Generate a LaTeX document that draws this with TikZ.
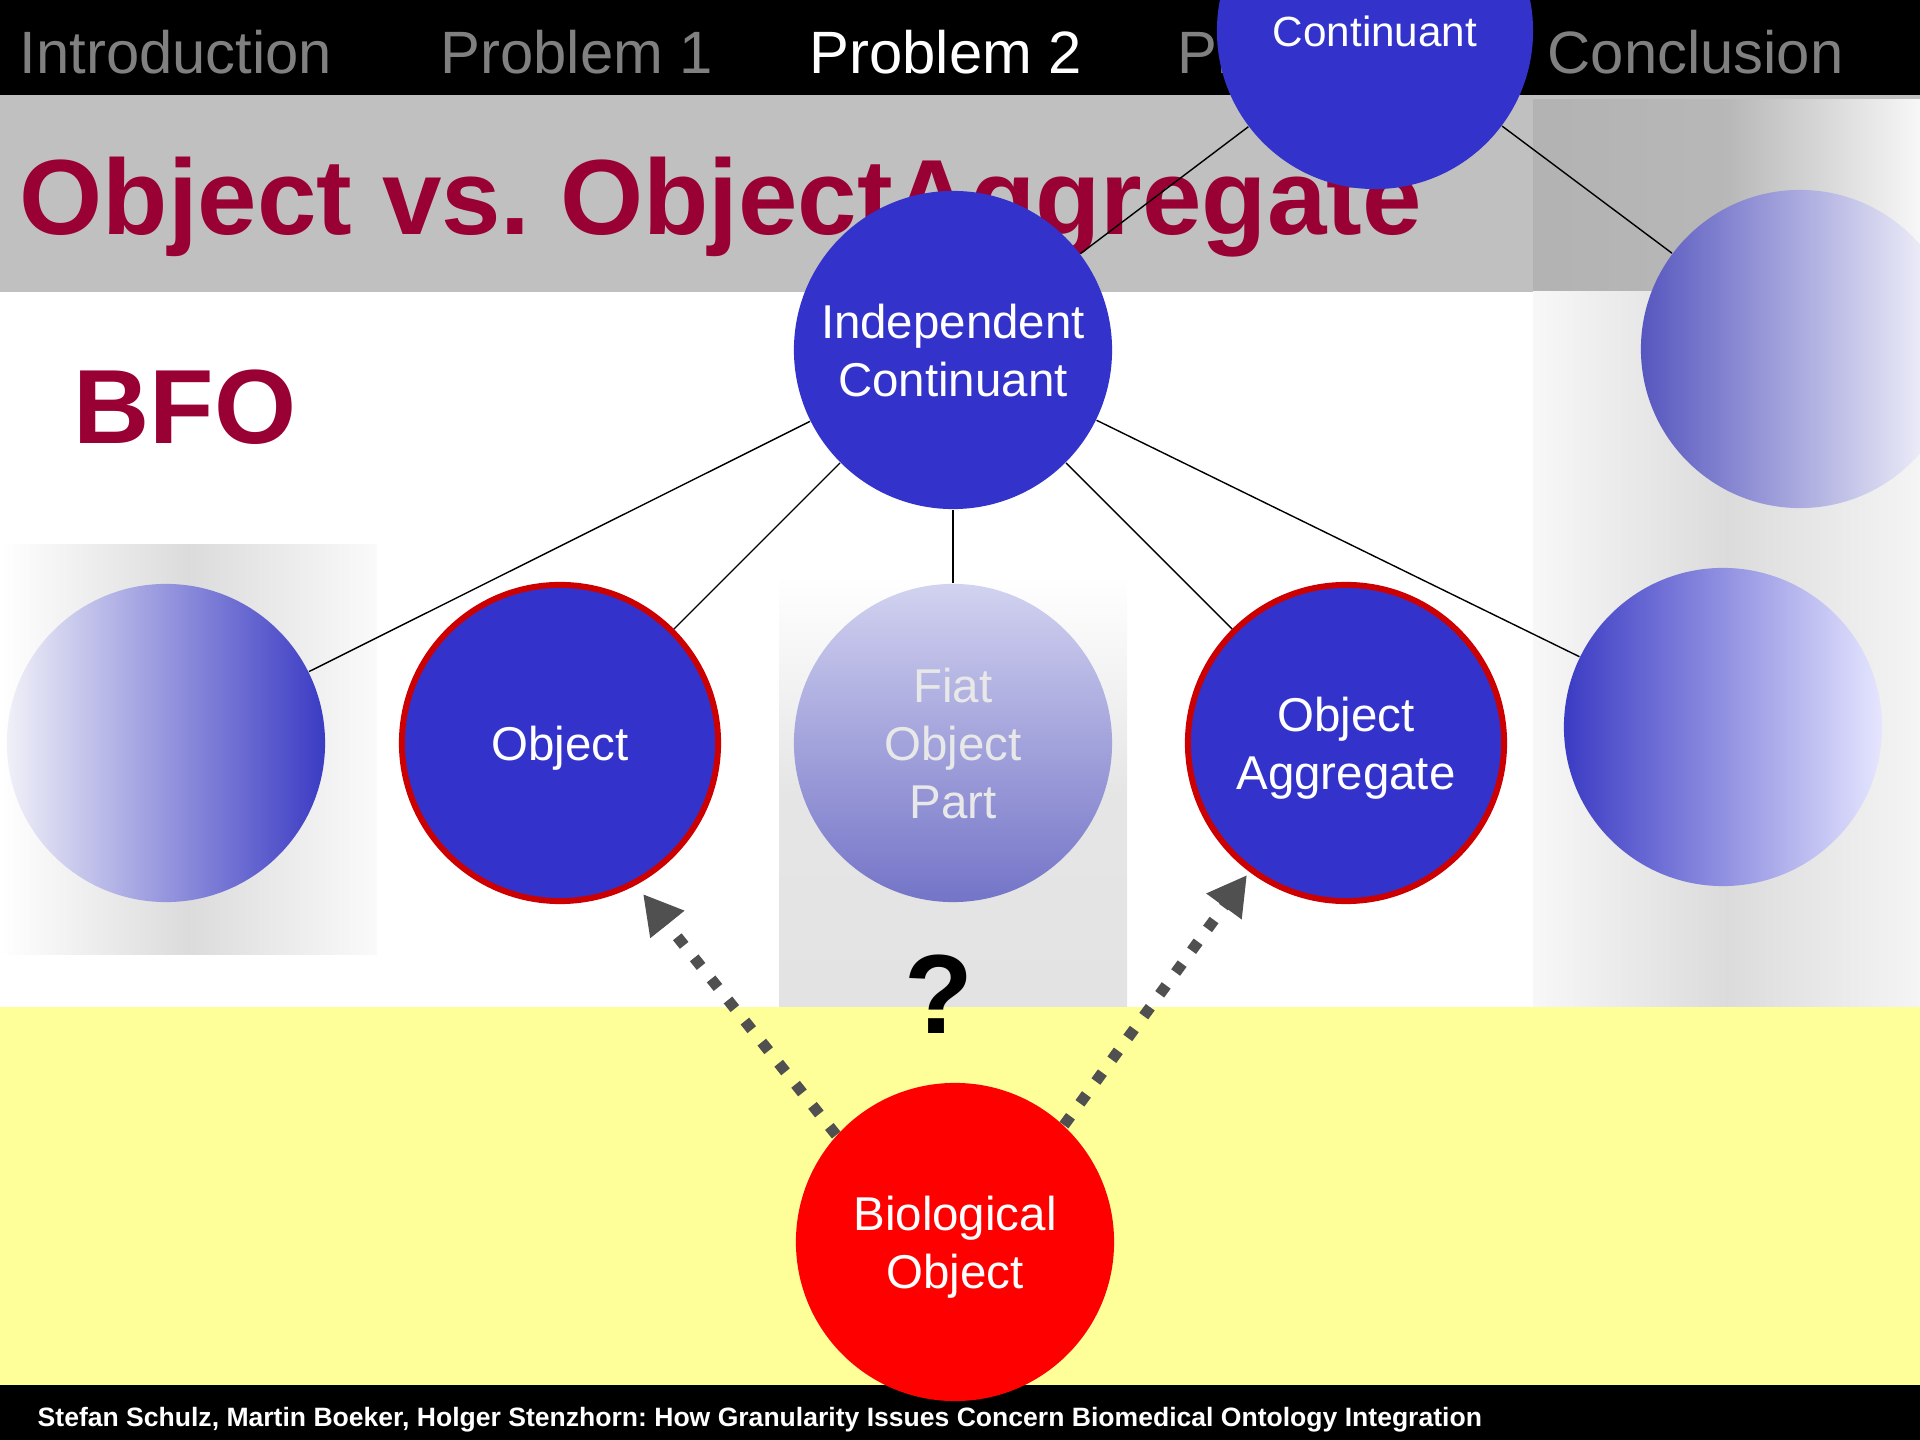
\documentclass[tikz,border=0pt]{standalone}
\usepackage{fontspec}
\setmainfont{Liberation Sans}
\usepackage{xcolor}
\usetikzlibrary{arrows.meta}

\definecolor{navgray}{HTML}{808080}
\definecolor{bandgray}{HTML}{C0C0C0}
\definecolor{titlered}{HTML}{990033}
\definecolor{nodeblue}{HTML}{3333CC}
\definecolor{ringred}{HTML}{CC0000}
\definecolor{paleyellow}{HTML}{FFFF99}
\definecolor{hintgray}{HTML}{505050}
\definecolor{fadeblue}{HTML}{3B3BC4}
\definecolor{paleblue}{HTML}{F0F0F8}
\definecolor{fiattop}{HTML}{D2D2F0}
\definecolor{fiatbottom}{HTML}{7474C8}
\frenchspacing

\begin{document}
\begin{tikzpicture}[x=0.01cm,y=-0.01cm,
    label/.style={anchor=base west,inner sep=0pt},
    nav/.style={label,text=navgray,font=\fontsize{17}{20}\selectfont},
    heading/.style={label,text=titlered,font=\fontsize{30}{36}\selectfont\bfseries},
    concept/.style={circle,inner sep=0pt,minimum size=3.18cm,align=center,text depth=0pt,
      text=white,font=\fontsize{13.5}{16.5}\selectfont},
    ringed/.style={concept,minimum size=3.16cm,fill=nodeblue,draw=ringred,line width=0.06cm},
    hint/.style={hintgray,line width=0.11cm,dash pattern=on 0.11cm off 0.16cm,
      -{Triangle[length=0.39cm,width=0.41cm]}}]
  \clip (0,0) rectangle (1920,1440);

  % Header and title band
  \fill[black] (0,0) rectangle (1920,95);
  \fill[bandgray] (0,95) rectangle (1920,292);

  % Faded panels behind the greyed-out classes
  \shade[left color=black!30,right color=black!3,middle color=black!28] (1533,100) rectangle (1920,292);
  \shade[left color=black!3,right color=black!4,middle color=black!14] (1533,292) rectangle (1920,1007);
  \shade[left color=white,right color=black!2,middle color=black!14] (0,545) rectangle (377,955);
  \shade[top color=white,bottom color=black!11,middle color=black!10] (779,575) rectangle (1127,1007);

  % Domain band and footer
  \fill[paleyellow] (0,1007) rectangle (1920,1385);
  \fill[black] (0,1385) rectangle (1920,1440);

  % Navigation
  \node[nav] (intro) at (19,74) {Introduction};
  \node[nav] (prob1) at (440,74) {Problem 1};
  \node[nav,text=white] (prob2) at (809,74) {Problem 2};
  \node[nav] (prob3) at (1177,74) {Problem 3};
  \node[nav] (concl) at (1547,74) {Conclusion};

  % Headings
  \node[heading,font=\fontsize{30.4}{36}\selectfont\bfseries] (title) at (19,235) {Object vs. ObjectAggregate};
  \node[heading] (bfo) at (73,444) {BFO};
  \node[label,text=white,font=\fontsize{7.55}{9}\selectfont\bfseries] (credit) at (37,1427)
    {Stefan Schulz, Martin Boeker, Holger Stenzhorn: How Granularity Issues Concern Biomedical Ontology Integration};
  \node[inner sep=0pt,font=\fontsize{32}{36}\selectfont\bfseries] (qmark) at (939,994) {?};

  % Classes
  \node[concept,fill=nodeblue,minimum size=3.16cm,font=\fontsize{12}{14}\selectfont] (cont) at (1375,31) {Continuant};
  \node[concept,fill=nodeblue] (ic) at (953,350) {Independent\\Continuant};
  \node[concept,left color=paleblue,right color=fadeblue] (lft) at (166,743) {};
  \node[ringed] (obj) at (560,743) {Object};
  \node[concept,top color=fiattop,bottom color=fiatbottom,text=black!9] (fiat) at (953,743) {Fiat\\Object\\Part};
  \node[ringed] (agg) at (1346,743) {Object\\Aggregate};
  \node[concept,left color=fadeblue,right color=blue!10!white] (rlow) at (1723,727) {};
  \node[concept,left color=blue!55!white!75!black,right color=white] (rup) at (1800,349) {};
  \node[concept,fill=red] (bio) at (955,1242) {Biological\\Object};

  % Subsumption links
  \draw (cont) -- (ic);
  \draw (cont) -- (rup);
  \foreach \sub in {lft,obj,fiat,agg,rlow}
    \draw (ic) -- (\sub);

  % Open mapping
  \coordinate (objtip) at (643,894);
  \coordinate (aggtip) at (1247,875);
  \draw[hint] (bio.138) -- (objtip);
  \draw[hint] (bio.47) -- (aggtip);
\end{tikzpicture}
\end{document}
